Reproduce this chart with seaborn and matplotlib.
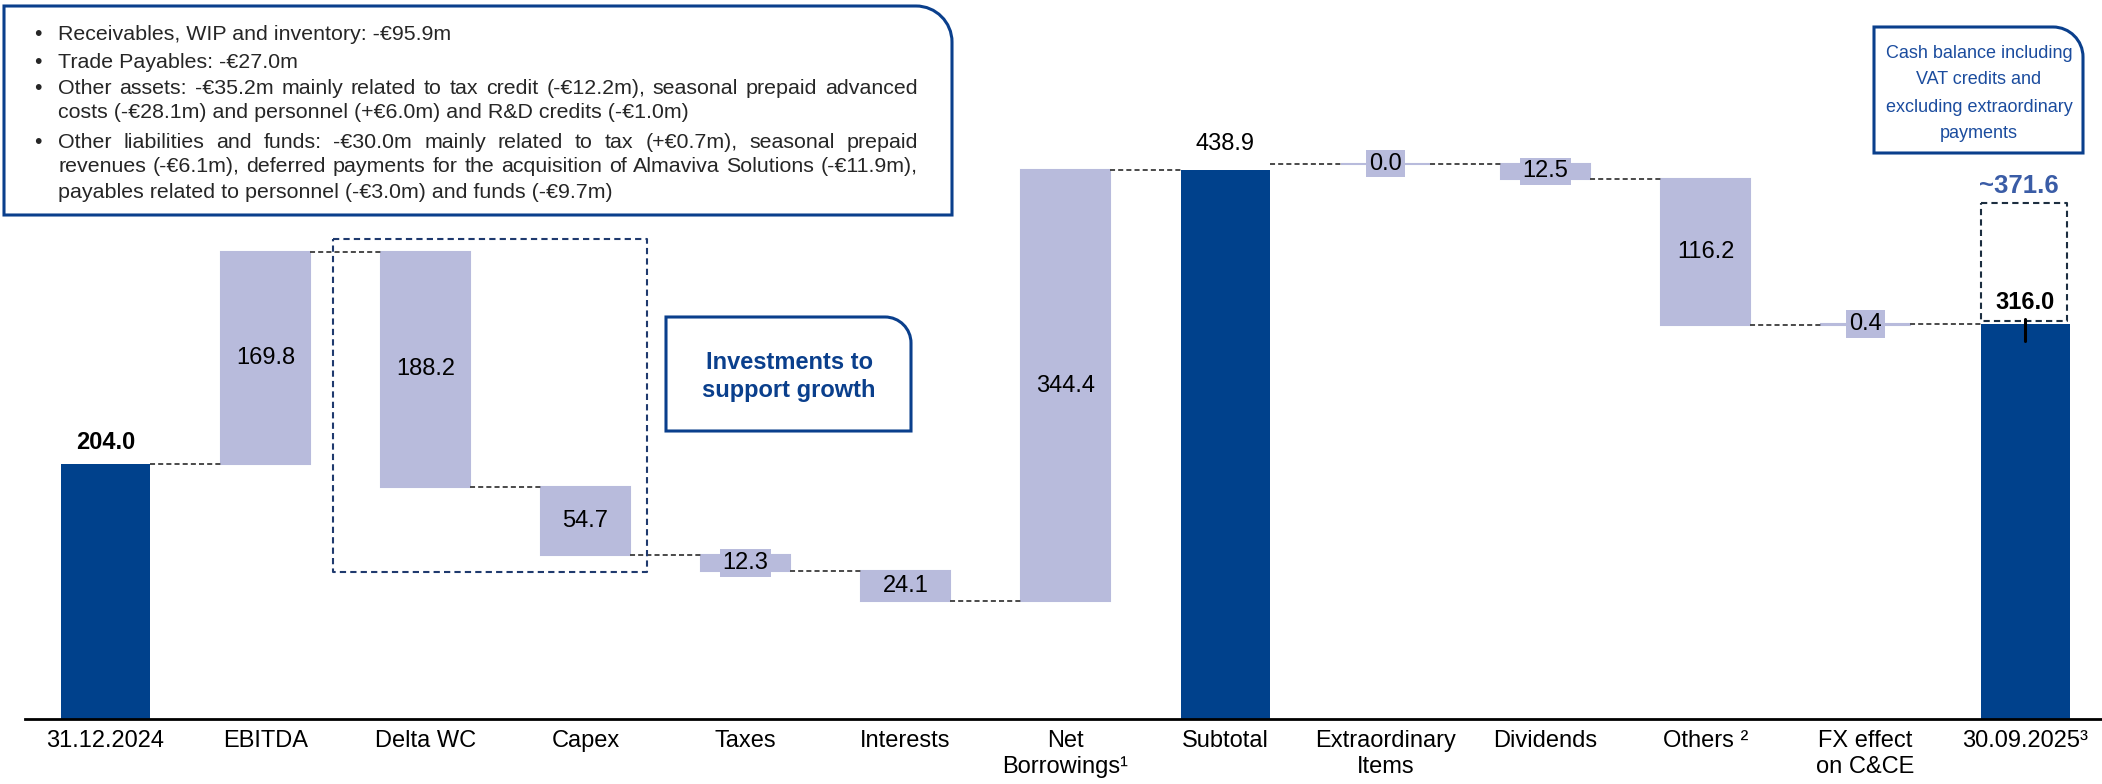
import numpy as np
import pandas as pd
import matplotlib
matplotlib.use("Agg")
import matplotlib.pyplot as plt
import seaborn as sns
from matplotlib.path import Path
from matplotlib.patches import PathPatch

# ---------------- data ----------------
categories = ["31.12.2024", "EBITDA", "Delta WC", "Capex", "Taxes", "Interests",
              "Net\nBorrowings\u00b9", "Subtotal", "Extraordinary\nItems", "Dividends",
              "Others \u00b2", "FX effect\non C&CE", "30.09.2025\u00b3"]
values = [204.0, 169.8, -188.2, -54.7, -12.3, -24.1, 344.4, 438.9, -0.0, -12.5, -116.2, 0.4, 316.0]
kinds = ["total", "delta", "delta", "delta", "delta", "delta", "delta",
         "total", "delta", "delta", "delta", "delta", "total"]
value_labels = ["204.0", "169.8", "188.2", "54.7", "12.3", "24.1", "344.4",
                "438.9", "0.0", "12.5", "116.2", "0.4", "316.0"]
bold_labels = ["31.12.2024", "30.09.2025\u00b3"]
adjusted_label = "~371.6"

wc_notes = [
    ("\u2022", "Receivables, WIP and inventory: -\u20ac95.9m", False),
    ("\u2022", "Trade Payables: -\u20ac27.0m", False),
    ("\u2022", "Other assets: -\u20ac35.2m mainly related to tax credit (-\u20ac12.2m), seasonal prepaid advanced", True),
    ("", "costs (-\u20ac28.1m) and personnel (+\u20ac6.0m) and R&D credits (-\u20ac1.0m)", False),
    ("\u2022", "Other liabilities and funds: -\u20ac30.0m mainly related to tax (+\u20ac0.7m), seasonal prepaid", True),
    ("", "revenues (-\u20ac6.1m), deferred payments for the acquisition of Almaviva Solutions (-\u20ac11.9m),", True),
    ("", "payables related to personnel (-\u20ac3.0m) and funds (-\u20ac9.7m)", False),
]
cash_note = ["Cash balance including", "VAT credits and", "excluding extraordinary", "payments"]
invest_note = ["Investments to", "support growth"]

# ---------------- style ----------------
DARK = "#00418C"
LIGHT = "#B8BBDC"
BOX_BLUE = "#0A3F8C"
TEXT_BLUE = "#1B4C9E"
W, H = 2102, 784

sns.set_theme(style="white")
plt.rcParams["font.family"] = ["Liberation Sans", "DejaVu Sans"]

fig = plt.figure(figsize=(W / 100, H / 100), dpi=100)
base_px = 719
ax = fig.add_axes([25 / W, (H - base_px) / H, 1 - 25 / W, base_px / H])

# ---------------- waterfall levels ----------------
n = len(values)
start = np.zeros(n)
end = np.zeros(n)
sub_idx = kinds.index("total", 1)
level = 0.0
for i in range(0, sub_idx + 1):
    if kinds[i] == "total":
        start[i], end[i] = 0.0, values[i]
        level = values[i]
    else:
        start[i] = level
        end[i] = level + values[i]
        level = end[i]
level = values[-1]
start[-1], end[-1] = 0.0, values[-1]
for i in range(n - 2, sub_idx, -1):
    end[i] = level
    start[i] = level - values[i]
    level = start[i]

bottoms = np.minimum(start, end)
heights = np.abs(end - start)
df = pd.DataFrame({"category": categories, "height": heights})

bw = 0.556
sns.barplot(data=df, x="category", y="height", order=categories, bottom=bottoms,
            width=bw, errorbar=None, color=LIGHT, saturation=1, ax=ax)
for p, k in zip(ax.patches, kinds):
    if k == "total":
        p.set_facecolor(DARK)
        p.set_edgecolor("none")
    else:
        p.set_facecolor(LIGHT)
        p.set_edgecolor(LIGHT)
        p.set_linewidth(1.5)

ax.set_xlim((25 - 105.5) / 160, (W - 105.5) / 160)
ax.set_ylim(0, base_px / 1.25)

# connectors
for i in range(n - 1):
    nxt = i + 1
    lvl = end[nxt] if kinds[nxt] == "total" else start[nxt]
    ax.plot([i + bw / 2, nxt - bw / 2], [lvl, lvl], color="#4A4A4A",
            lw=1.4, ls=(0, (2.6, 1.6)), zorder=1)

# value labels
for i in range(n):
    if kinds[i] == "total":
        off = 11 if i == sub_idx else 7
        ax.annotate(value_labels[i], (i, end[i]), xytext=(0, off), textcoords="offset points",
                    ha="center", va="bottom", fontsize=17, color="black",
                    fontweight="bold" if categories[i] in bold_labels else "normal")
    else:
        mid = (start[i] + end[i]) / 2
        small = heights[i] < 20
        bbox = dict(boxstyle="square,pad=0.12", fc=LIGHT, ec="none") if small else None
        ax.text(i, mid, value_labels[i], ha="center", va="center", fontsize=17,
                color="black", bbox=bbox, zorder=5)

# axes styling
for s in ["top", "right", "left"]:
    ax.spines[s].set_visible(False)
ax.spines["bottom"].set_color("black")
ax.spines["bottom"].set_linewidth(2)
ax.set_yticks([])
ax.set_xlabel("")
ax.set_ylabel("")
ax.tick_params(axis="x", length=0, pad=8, labelsize=17, colors="black")
ax.set_facecolor("none")


# ---------------- annotations (pixel layout) ----------------
def fx(x):
    return x / W


def fy(y):
    return 1 - y / H


def tr_round_box(x0, y0, x1, y1, r, **kw):
    k = 0.5523 * r
    pts = [(x0, y1), (x0, y0), (x1 - r, y0), (x1 - r + k, y0), (x1, y0 + r - k),
           (x1, y0 + r), (x1, y1), (x0, y1)]
    codes = [Path.MOVETO, Path.LINETO, Path.LINETO, Path.CURVE4, Path.CURVE4,
             Path.CURVE4, Path.LINETO, Path.CLOSEPOLY]
    path = Path([(fx(a), fy(b)) for a, b in pts], codes)
    fig.patches.append(PathPatch(path, transform=fig.transFigure, **kw))


def dashed_rect(x0, y0, x1, y1, color):
    xs = [fx(x0), fx(x1), fx(x1), fx(x0), fx(x0)]
    ys = [fy(y0), fy(y0), fy(y1), fy(y1), fy(y0)]
    fig.lines.append(plt.Line2D(xs, ys, transform=fig.transFigure, color=color,
                                lw=1.5, ls=(0, (3, 2))))


# top-left notes box
tr_round_box(4, 6, 952, 215, 36, fc="white", ec=BOX_BLUE, lw=2.2)
renderer = fig.canvas.get_renderer()
note_y = [35, 62, 88, 113, 143, 167, 192]
tx0, tx1 = 58, 918
fs_note = 15.4


def text_w(s):
    t = fig.text(0, 0, s, fontsize=fs_note)
    w = t.get_window_extent(renderer).width
    t.remove()
    return w


for (bullet, line, justify), y in zip(wc_notes, note_y):
    if bullet:
        fig.text(fx(34), fy(y), bullet, fontsize=fs_note, ha="left", va="center")
    natural = text_w(line)
    words = line.split(" ")
    if justify and natural < (tx1 - tx0) and len(words) > 1:
        extra = ((tx1 - tx0) - natural) / (len(words) - 1)
        for k, wd in enumerate(words):
            pre = text_w(" ".join(words[:k + 1])) - text_w(wd)
            fig.text(fx(tx0 + pre + k * extra), fy(y), wd, fontsize=fs_note,
                     ha="left", va="center")
    else:
        fig.text(fx(tx0), fy(y), line, fontsize=fs_note, ha="left", va="center")

# cash balance note box (top-right)
tr_round_box(1874, 27, 2083, 153, 30, fc="white", ec=BOX_BLUE, lw=2.2)
for s, y in zip(cash_note, [54, 80, 107, 133]):
    fig.text(fx(1979), fy(y), s, fontsize=13, color=TEXT_BLUE, ha="center", va="center")

# investments box
tr_round_box(666, 317, 911, 431, 26, fc="white", ec=BOX_BLUE, lw=2.2)
for s, y in zip(invest_note, [362, 390]):
    fig.text(fx(789), fy(y), s, fontsize=17, color=BOX_BLUE, fontweight="bold",
             ha="center", va="center")

# dashed group box around Delta WC / Capex
dashed_rect(333, 239, 647, 572, "#1F3A6E")

# adjusted closing box
dashed_rect(1981, 203, 2067, 321, "#1C2E40")
fig.text(fx(2019), fy(186), adjusted_label, fontsize=18.5, fontweight="bold",
         color="#3A5CA6", ha="center", va="center")
fig.lines.append(plt.Line2D([fx(2025), fx(2025)], [fy(319), fy(341)],
                            transform=fig.transFigure, color="black", lw=2.2))

fig.savefig("out.png", dpi=100)
